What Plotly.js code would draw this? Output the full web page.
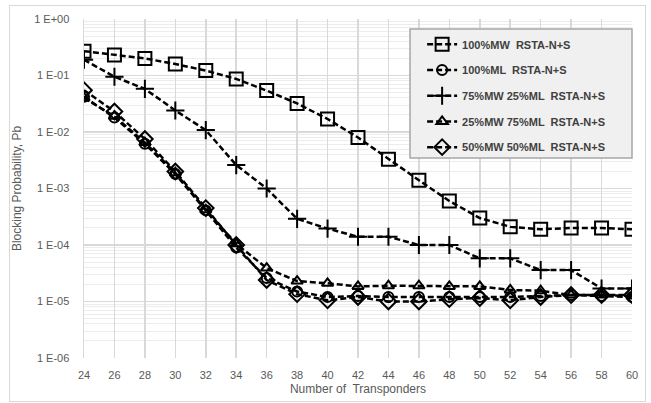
<!DOCTYPE html>
<html>
<head>
<meta charset="utf-8">
<script src="https://cdn.plot.ly/plotly-3.0.1.min.js"></script>
<style>
body{margin:0;padding:0;background:#fff;}
#wrap{position:relative;width:651px;height:403px;}
#chart{width:651px;height:403px;}
#frame{position:absolute;left:9px;top:5px;width:635px;height:395px;border:1px solid #d9d9d9;pointer-events:none;}
</style>
</head>
<body>
<div id="wrap"><div id="chart"></div><div id="frame"></div></div>
<script>
const transponders = [24,26,28,30,32,34,36,38,40,42,44,46,48,50,52,54,56,58,60];
const mw100 = [0.27,0.23,0.20,0.16,0.122,0.087,0.054,0.032,0.017,0.008,0.0033,0.0014,0.0006,0.0003,0.00021,0.00019,0.0002,0.0002,0.00019];
const ml100 = [0.042,0.018,0.0062,0.0018,0.00041,0.00009,0.000026,0.000015,0.000012,0.0000125,0.000012,0.000012,0.000012,0.000012,0.000012,0.0000125,0.000013,0.0000125,0.000012];
const mw75ml25 = [0.19,0.095,0.058,0.024,0.0108,0.0026,0.001,0.00029,0.000195,0.00014,0.00014,0.0001,0.0001,0.000058,0.000058,0.000036,0.000036,0.000017,0.000017];
const mw25ml75 = [0.04,0.019,0.0065,0.0019,0.00042,0.000105,0.000039,0.000023,0.000021,0.0000185,0.000019,0.000019,0.0000185,0.0000185,0.000016,0.0000155,0.000013,0.000013,0.0000125];
const mw50ml50 = [0.055,0.023,0.0075,0.002,0.00045,0.0001,0.000024,0.0000135,0.0000105,0.000012,0.00001,0.00001,0.000011,0.0000115,0.0000105,0.000012,0.000013,0.000013,0.000013];
const seriesNames = ["100%MW  RSTA-N+S","100%ML  RSTA-N+S","75%MW 25%ML  RSTA-N+S","25%MW 75%ML  RSTA-N+S","50%MW 50%ML  RSTA-N+S"];
const yTickVals = [1,0.1,0.01,0.001,0.0001,0.00001,0.000001];
const yTickText = ["1 E+00","1 E-01","1 E-02","1 E-03","1 E-04","1 E-05","1 E-06"];

const symbols = ["square-open","circle-open","cross-thin-open","triangle-up-open","diamond-open"];
const sizes = [13,10,13,10,12];
const data = [mw100, ml100, mw75ml25, mw25ml75, mw50ml50];
const traces = data.map((ys,i)=>({
  x: transponders, y: ys, name: seriesNames[i], type:'scatter', mode:'lines+markers',
  legendgroup: 'g'+i,
  line:{color:'#000', width:2.5, dash:'6px,3px'},
  marker:{symbol:symbols[i], size:sizes[i], color:'#000', line:{color:'#000', width:2}}
}));

const layout = {
  width:651, height:403,
  margin:{l:84, r:19, t:19, b:45},
  paper_bgcolor:'#fff', plot_bgcolor:'#fff',
  font:{family:'Arial, Liberation Sans, sans-serif', color:'#595959', size:11},
  showlegend:true,
  legend:{x:0.617, y:0.968, xanchor:'left', yanchor:'top', bgcolor:'rgba(0,0,0,0)', borderwidth:0,
    font:{size:11, color:'#404040', family:'Arial, Liberation Sans, sans-serif', weight:'bold'}, tracegroupgap:6.7, itemwidth:30},
  shapes:[{type:'rect', xref:'paper', yref:'paper', x0:0.5949, x1:1.0, y0:0.590, y1:0.9705,
    fillcolor:'#f0f0f0', line:{color:'#a6a6a6', width:1.5}, layer:'above'}],
  xaxis:{range:[24,60], tickvals:transponders, showgrid:true, gridcolor:'#d9d9d9', gridwidth:1.5, zeroline:false,
    showline:false, ticks:'outside', ticklen:7, tickcolor:'rgba(0,0,0,0)', tickfont:{size:11,color:'#595959'},
    title:{text:'Number of  Transponders', font:{size:12,color:'#595959'}, standoff:4}},
  yaxis:{type:'log', range:[-6,0], tickvals:yTickVals, ticktext:yTickText, showgrid:true, gridcolor:'#d9d9d9', gridwidth:1.5,
    zeroline:false, showline:true, linecolor:'#d9d9d9', linewidth:1.5, ticks:'outside', ticklen:11, tickcolor:'rgba(0,0,0,0)', tickfont:{size:11,color:'#595959'},
    minor:{dtick:'D1', showgrid:true, gridcolor:'#ececec', gridwidth:1, ticks:''},
    title:{text:'Blocking Probability, Pb', font:{size:12,color:'#595959'}, standoff:10}}
};
Plotly.newPlot('chart', traces, layout, {displayModeBar:false, staticPlot:true});
</script>
</body>
</html>
